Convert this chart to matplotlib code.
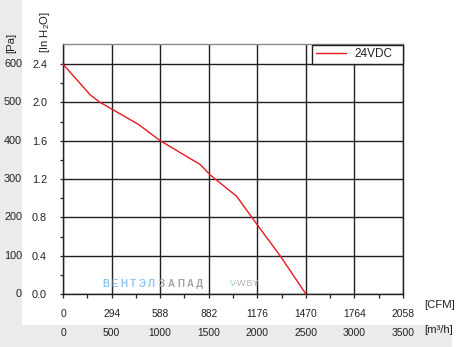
import matplotlib
matplotlib.use("Agg")
import matplotlib.pyplot as plt
from matplotlib.patches import Rectangle
from matplotlib.lines import Line2D
from matplotlib.transforms import blended_transform_factory

plt.rcParams["font.family"] = ["Liberation Sans", "DejaVu Sans"]
plt.rcParams["mathtext.fontset"] = "custom"
plt.rcParams["mathtext.rm"] = "Liberation Sans"

# Fan performance curve: airflow (CFM) vs static pressure (in H2O)
flow_cfm = [0, 164, 225, 296, 457, 589, 832, 893, 1051, 1177, 1318, 1470]
pressure_inh2o = [2.40, 2.08, 2.00, 1.93, 1.77, 1.60, 1.35, 1.24, 1.02, 0.72, 0.39, 0.0]
series_label = "24VDC"

cfm_ticks = [0, 294, 588, 882, 1176, 1470, 1764, 2058]
m3h_labels = ["0", "500", "1000", "1500", "2000", "2500", "3000", "3500"]
inh2o_ticks = [0.0, 0.4, 0.8, 1.2, 1.6, 2.0, 2.4]
pa_labels = ["0", "100", "200", "300", "400", "500", "600"]

W, H = 465, 347
INK = "#231f20"
TXT = "#222222"
RED = "#e8191f"

fig = plt.figure(figsize=(W / 100, H / 100), dpi=100, facecolor="white")


def fx(px):
    return px / W


def fy(py):
    return 1 - py / H


# light grey frame strips on the left and bottom
fig.patches.append(Rectangle((0, 0), fx(22), 1, transform=fig.transFigure,
                             facecolor="#ebebeb", edgecolor="none", zorder=-5))
fig.patches.append(Rectangle((0, fy(347)), fx(452), fy(325) - fy(347),
                             transform=fig.transFigure, facecolor="#ebebeb",
                             edgecolor="none", zorder=-5))

ax = fig.add_axes([fx(63), fy(294), fx(403) - fx(63), fy(44) - fy(294)])
ax.set_xlim(0, 2058)
ax.set_ylim(0, 2.61)

ax.plot(flow_cfm, pressure_inh2o, color=RED, lw=1.0, zorder=3, clip_on=False)

# ticks and grid
ax.set_xticks(cfm_ticks)
ax.set_xticklabels([str(v) for v in cfm_ticks])
ax.set_xticks([(a + b) / 2 for a, b in zip(cfm_ticks[:-1], cfm_ticks[1:])], minor=True)
ax.set_yticks(inh2o_ticks)
ax.set_yticklabels([f"{v:.1f}" for v in inh2o_ticks])
ax.set_yticks([0.2, 0.6, 1.0, 1.4, 1.8, 2.2], minor=True)

ax.tick_params(axis="x", which="both", direction="out", length=3, width=0.9,
               color=INK, labelsize=7.4, labelcolor=TXT, pad=8)
ax.tick_params(axis="y", which="both", direction="out", length=2, width=0.9,
               color=INK, labelsize=7.8, labelcolor=TXT, pad=9.5)

ax.grid(which="major", color=INK, lw=1.0, zorder=1)
ax.set_axisbelow(True)
for side in ("left", "bottom", "right"):
    ax.spines[side].set_color(INK)
    ax.spines[side].set_linewidth(1.0)
ax.spines["top"].set_color("#8a8a8a")
ax.spines["top"].set_linewidth(1.0)

# secondary scales drawn as text: Pa on the left, m3/h at the bottom
ytrans = blended_transform_factory(fig.transFigure, ax.transData)
for v, lab in zip(inh2o_ticks, pa_labels):
    fig.text(fx(22), v, lab, transform=ytrans, ha="right", va="center",
             fontsize=7.8, color=TXT)

xtrans = blended_transform_factory(ax.transData, fig.transFigure)
for v, lab in zip(cfm_ticks, m3h_labels):
    fig.text(v, fy(333), lab, transform=xtrans, ha="center", va="center",
             fontsize=7.4, color=TXT)

fig.text(fx(424), fy(305), "[CFM]", ha="left", va="center", fontsize=8.2, color=TXT)
fig.text(fx(424), fy(330), "[m³/h]", ha="left", va="center", fontsize=8.2, color=TXT)

fig.text(fx(11), fy(53), "[Pa]", rotation=90, ha="center", va="bottom",
         fontsize=8.2, color=TXT)
fig.text(fx(45), fy(53), r"[In H$\mathregular{_2}$O]", rotation=90, ha="center",
         va="bottom", fontsize=8.2, color=TXT)

# watermark
x0 = 102
for i, ch in enumerate("ВЕНТЭЛ"):
    fig.text(fx(x0 + i * 9.2), fy(284), ch, ha="left", va="center",
             fontsize=7, color="#8cc6ec", fontweight="bold")
x0 = 159
for i, ch in enumerate("ЗАПАД"):
    fig.text(fx(x0 + i * 9.2), fy(284), ch, ha="left", va="center",
             fontsize=7, color="#a3a3a3", fontweight="bold")
fig.text(fx(230), fy(284), "V-", ha="left", va="center", fontsize=6.5, color="#9cc8e8")
fig.text(fx(237), fy(284), "W.BY", ha="left", va="center", fontsize=6.5, color="#b0b0b0")

# legend box in the top-right corner
handle = Line2D([], [], color=RED, lw=1.0)
leg = ax.legend([handle], [series_label], loc="lower left",
                bbox_to_anchor=((312 - 63) / 340, (294 - 64) / 250, (403 - 312) / 340, 0.08),
                mode="expand", borderaxespad=0, fancybox=False, frameon=True,
                edgecolor=INK, framealpha=1, fontsize=8.5, borderpad=0.3,
                handlelength=2.6, handletextpad=0.7)
leg.get_frame().set_linewidth(1.0)
for t in leg.get_texts():
    t.set_color(TXT)
leg.set_zorder(5)

fig.savefig("out.png", dpi=100, facecolor="white")
